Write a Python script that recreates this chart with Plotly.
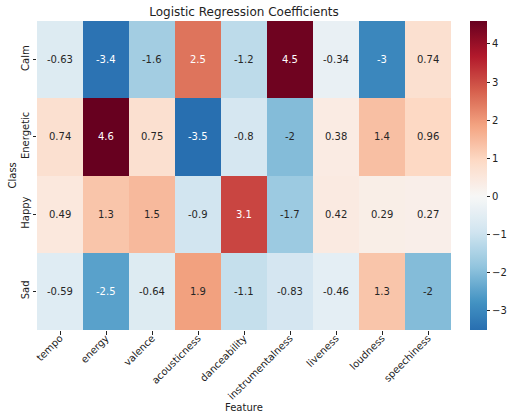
import plotly.graph_objects as go

features = ["tempo", "energy", "valence", "acousticness", "danceability",
            "instrumentalness", "liveness", "loudness", "speechiness"]
classes = ["Calm", "Energetic", "Happy", "Sad"]

calm = [-0.63, -3.4, -1.6, 2.5, -1.2, 4.5, -0.34, -3.0, 0.74]
energetic = [0.74, 4.6, 0.75, -3.5, -0.8, -2.0, 0.38, 1.4, 0.96]
happy = [0.49, 1.3, 1.5, -0.9, 3.1, -1.7, 0.42, 0.29, 0.27]
sad = [-0.59, -2.5, -0.64, 1.9, -1.1, -0.83, -0.46, 1.3, -2.0]

z = [calm, energetic, happy, sad]

# RdBu_r colormap, centred at 0 (seaborn center=0)
rdbu_r = ["#053061", "#2166ac", "#4393c3", "#92c5de", "#d1e5f0", "#f7f7f7",
          "#fddbc7", "#f4a582", "#d6604d", "#b2182b", "#67001f"]

flat = [v for row in z for v in row]
vmin, vmax = min(flat), max(flat)
vr = max(abs(vmin), abs(vmax))


def hex2rgb(h):
    h = h.lstrip("#")
    return [int(h[i:i + 2], 16) for i in (0, 2, 4)]


def cmap(p):
    p = min(max(p, 0), 1) * 10
    i = min(int(p), 9)
    f = p - i
    a, b = hex2rgb(rdbu_r[i]), hex2rgb(rdbu_r[i + 1])
    c = [round(a[k] + (b[k] - a[k]) * f) for k in range(3)]
    return "rgb(%d,%d,%d)" % tuple(c)


n = 60
colorscale = []
for k in range(n + 1):
    t = k / n
    v = vmin + (vmax - vmin) * t
    colorscale.append([t, cmap((v + vr) / (2 * vr))])

L, R, T, B = 37, 451, 21, 330
W, H = 508, 415
pw = R - L

fig = go.Figure()
fig.add_trace(go.Heatmap(
    z=z, x=features, y=classes, zmin=vmin, zmax=vmax,
    colorscale=colorscale, xgap=0, ygap=0, hoverinfo="skip",
    colorbar=dict(
        x=(470 - L) / pw, xanchor="left", xref="paper", xpad=0, ypad=0,
        y=0.5, yanchor="middle", lenmode="pixels", len=B - T,
        thickness=17, thicknessmode="pixels", outlinewidth=0,
        ticks="outside", ticklen=3.5, tickwidth=1, tickcolor="#222",
        tickvals=[-3, -2, -1, 0, 1, 2, 3, 4],
        tickfont=dict(family="DejaVu Sans", size=10, color="#222"),
    ),
))

for r, cls in enumerate(classes):
    for c, feat in enumerate(features):
        v = z[r][c]
        col = "white" if abs(v) >= 2.5 else "#262626"
        fig.add_annotation(x=feat, y=cls, text=("%g" % v), showarrow=False,
                           font=dict(family="DejaVu Sans", size=10, color=col))

fig.add_annotation(text="Feature", xref="paper", yref="paper",
                   x=0.5, y=-(407 - B) / (B - T), showarrow=False,
                   xanchor="center", yanchor="middle",
                   font=dict(family="DejaVu Sans", size=10, color="#222"))
fig.add_annotation(text="Class", xref="paper", yref="paper",
                   x=-(L - 12) / pw, y=0.5, showarrow=False, textangle=-90,
                   xanchor="center", yanchor="middle",
                   font=dict(family="DejaVu Sans", size=10, color="#222"))

fig.update_layout(
    width=W, height=H,
    margin=dict(l=L, r=W - R, t=T, b=H - B, autoexpand=False),
    paper_bgcolor="white", plot_bgcolor="white",
    font=dict(family="DejaVu Sans", color="#222"),
    title=dict(text="Logistic Regression Coefficients", x=0.5, xref="paper",
               xanchor="center", y=1 - 12 / H, yanchor="middle",
               font=dict(size=12, color="#222")),
    xaxis=dict(tickangle=-45, ticks="outside", ticklen=3.5, tickcolor="#222",
               tickfont=dict(size=10), showgrid=False, zeroline=False,
               automargin=False, ticklabelstandoff=-6),
    yaxis=dict(autorange="reversed", tickangle=-90, ticks="outside", ticklen=3.5,
               tickcolor="#222", tickfont=dict(size=10), showgrid=False,
               zeroline=False, automargin=False),
)

fig.write_html("out.html", config={"displayModeBar": False},
               post_script="document.body.style.margin='0';"
                           "document.body.style.overflow='hidden';")
